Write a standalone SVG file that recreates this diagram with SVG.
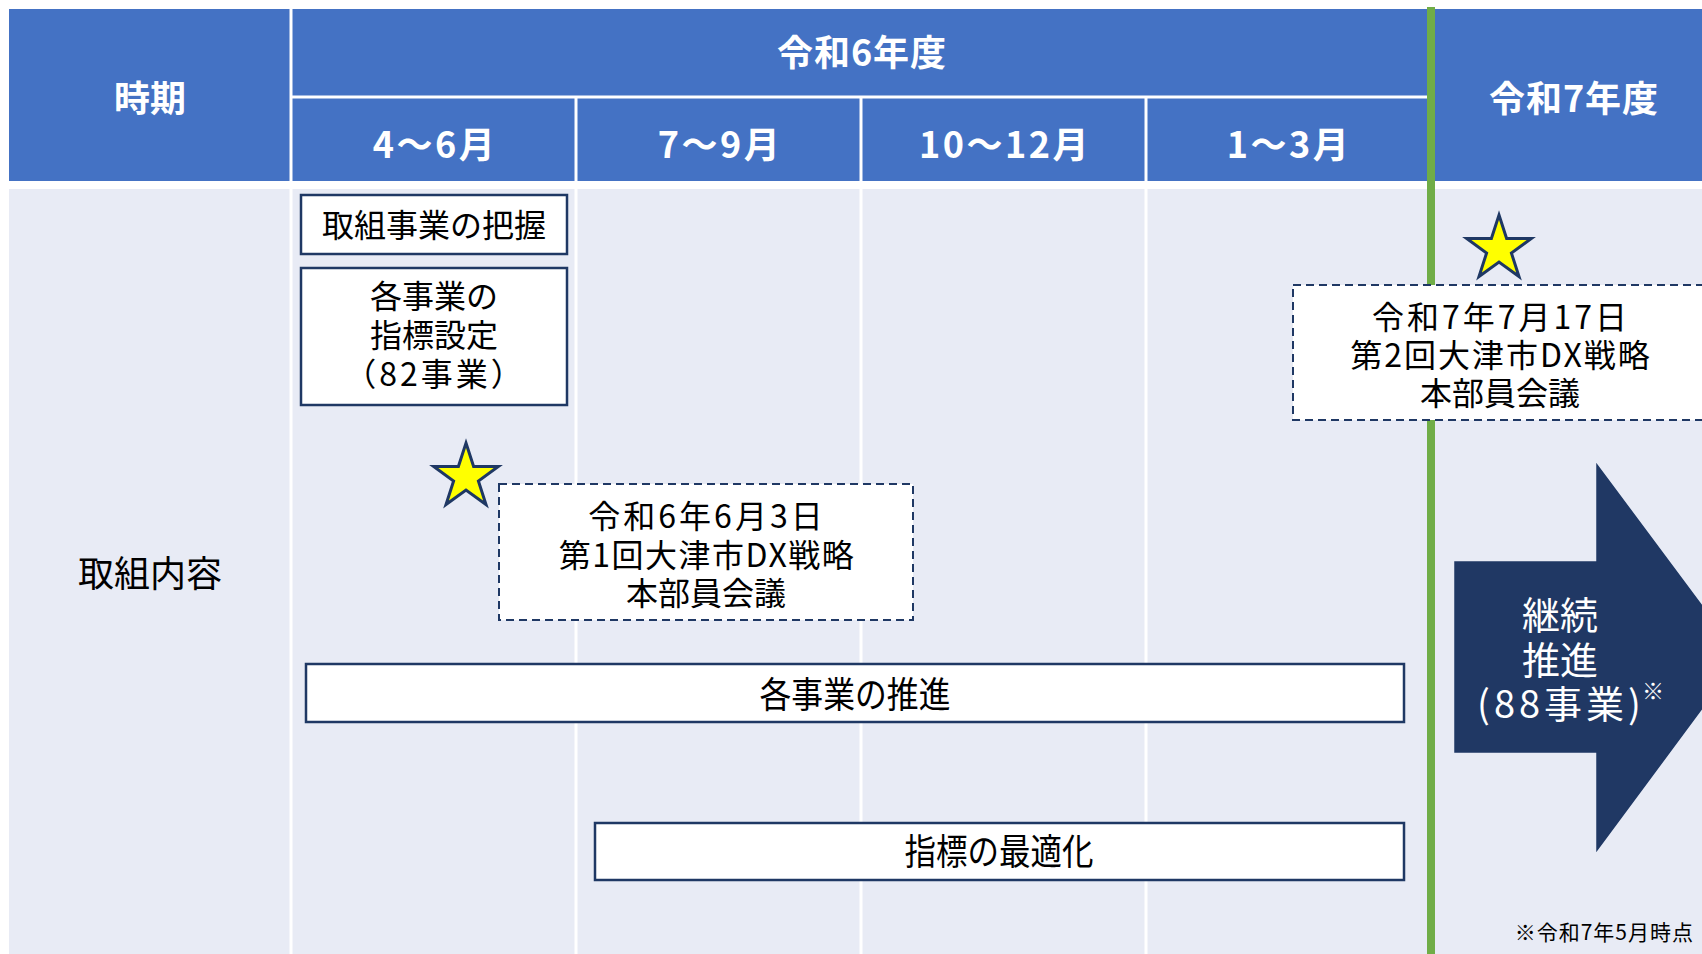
<svg xmlns="http://www.w3.org/2000/svg" width="1702" height="954" viewBox="0 0 1702 954">
<style>
  text { font-family: "Noto Sans CJK JP", "Noto Sans", sans-serif; dominant-baseline: central; text-anchor: middle; }
  .hd { fill: #FFFFFF; font-size: 36px; font-weight: bold; }
  .mo { letter-spacing: 2.5px; }
  .body { fill: #000000; font-size: 32px; }
  .box { fill: #FFFFFF; stroke: #1F3864; stroke-width: 2.5; }
  .dash { fill: #FFFFFF; stroke: #1F3864; stroke-width: 2; stroke-dasharray: 8 5; }
  .sep { stroke: #FFFFFF; stroke-width: 3; }
  .star { fill: #FFFF00; stroke: #1F3864; stroke-width: 3; stroke-linejoin: miter; }
  .arrowtxt { fill: #FFFFFF; font-size: 38px; }
</style>
<defs>
  <polygon id="starShape" points="0,-34 7.6,-10.5 32.3,-10.5 12.4,4 20,27.5 0,13 -20,27.5 -12.4,4 -32.3,-10.5 -7.6,-10.5"/>
</defs>
<rect x="0" y="0" width="1702" height="954" fill="#FFFFFF"/>

<g id="header">
  <rect x="9" y="9" width="1693" height="172" fill="#4472C4"/>
  <line class="sep" x1="291" y1="9" x2="291" y2="181"/>
  <line class="sep" x1="291" y1="97" x2="1431" y2="97"/>
  <line class="sep" x1="576" y1="97" x2="576" y2="181"/>
  <line class="sep" x1="861" y1="97" x2="861" y2="181"/>
  <line class="sep" x1="1146" y1="97" x2="1146" y2="181"/>
  <text class="hd" x="150" y="96">時期</text>
  <text class="hd" x="862" y="50" style="letter-spacing:1px">令和6年度</text>
  <text class="hd" x="1574" y="96" style="letter-spacing:1px">令和7年度</text>
  <text class="hd mo" x="435" y="142">4～6月</text>
  <text class="hd mo" x="720" y="142">7～9月</text>
  <text class="hd mo" x="1005" y="142">10～12月</text>
  <text class="hd mo" x="1289" y="142">1～3月</text>
</g>

<g id="content-bg">
  <rect x="9" y="189" width="1693" height="765" fill="#E8EBF5"/>
  <line class="sep" x1="291" y1="189" x2="291" y2="954"/>
  <line class="sep" x1="576" y1="189" x2="576" y2="954"/>
  <line class="sep" x1="861" y1="189" x2="861" y2="954"/>
  <line class="sep" x1="1146" y1="189" x2="1146" y2="954"/>
  <text x="150" y="571" style="font-size:36px;fill:#000000">取組内容</text>
</g>

<g id="connectors">
  <line x1="1431" y1="7" x2="1431" y2="954" stroke="#70AD47" stroke-width="8"/>
</g>

<g id="node-haaku">
  <rect class="box" x="301" y="195" width="266" height="59"/>
  <text class="body" x="434" y="223">取組事業の把握</text>
</g>

<g id="node-shihyo">
  <rect class="box" x="301" y="268" width="266" height="137"/>
  <text class="body" x="434" y="294">各事業の</text>
  <text class="body" x="434" y="333">指標設定</text>
  <text class="body" x="435" y="372" style="letter-spacing:3px">（82事業）</text>
</g>

<g id="star1">
  <use href="#starShape" class="star" transform="translate(466,477)"/>
</g>

<g id="node-meeting1">
  <rect class="dash" x="499" y="484" width="414" height="136"/>
  <text class="body" x="707" y="514" style="letter-spacing:3px">令和6年6月3日</text>
  <text class="body" x="707" y="553" style="letter-spacing:1.5px">第1回大津市DX戦略</text>
  <text class="body" x="706" y="591">本部員会議</text>
</g>

<g id="node-meeting2">
  <rect class="dash" x="1293" y="285" width="430" height="135"/>
  <text class="body" x="1501" y="315" style="letter-spacing:3px">令和7年7月17日</text>
  <text class="body" x="1501" y="353" style="letter-spacing:2px">第2回大津市DX戦略</text>
  <text class="body" x="1500" y="391">本部員会議</text>
</g>

<g id="star2">
  <use href="#starShape" class="star" transform="translate(1499,249)"/>
</g>

<g id="node-suishin">
  <rect class="box" x="306" y="664" width="1098" height="58"/>
  <text x="855" y="692" style="font-size:36px;fill:#000000" textLength="191" lengthAdjust="spacingAndGlyphs">各事業の推進</text>
</g>

<g id="node-saitekika">
  <rect class="box" x="595" y="823" width="809" height="57"/>
  <text x="999" y="849" style="font-size:36px;fill:#000000" textLength="189" lengthAdjust="spacingAndGlyphs">指標の最適化</text>
</g>

<g id="node-keizoku">
  <path d="M1455,562 L1597,562 L1597,465 L1740,657 L1597,850 L1597,752 L1455,752 Z" fill="#203864" stroke="#1F3864" stroke-width="1.5"/>
  <text class="arrowtxt" x="1560" y="612">継続</text>
  <text class="arrowtxt" x="1560" y="657">推進</text>
  <text class="arrowtxt" x="1561" y="701" style="letter-spacing:4px">(88事業)</text>
  <text class="arrowtxt" x="1653" y="689" style="font-size:22px">※</text>
</g>

<g id="footnote">
  <text x="1694" y="931" style="font-size:21px;fill:#000000;text-anchor:end;letter-spacing:1px">※令和7年5月時点</text>
</g>
</svg>
